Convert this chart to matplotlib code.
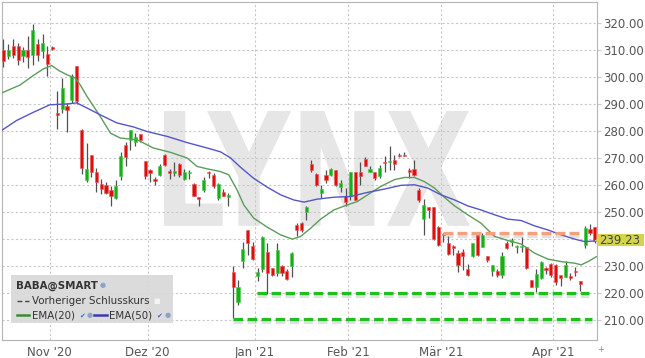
import matplotlib
matplotlib.use("Agg")
import matplotlib.pyplot as plt
import matplotlib.patheffects as pe
from matplotlib.textpath import TextPath
from matplotlib.font_manager import FontProperties
from matplotlib.patches import PathPatch, Rectangle
from matplotlib.transforms import Affine2D, blended_transform_factory

# trading day index, 0 = 2 Nov 2020
start_idx = -10
opens = [310.0, 307.5, 311.5, 311.5, 307.5, 310.0, 308.1, 312.1, 309.4, 308.5,
         310.9, 286.6, 288.0, 289.0, 291.5, 303.8, 280.1, 261.9, 271.1, 264.9,
         260.4, 260.0, 258.1, 255.1, 263.3, 274.8, 276.7, 275.7, 278.9, 268.9,
         265.6, 262.1, 263.7, 271.1, 265.1, 264.2, 267.8, 262.1, 264.3, 260.4,
         255.4, 257.9, 264.8, 263.7, 255.1, 257.5, 255.4, 227.9, 216.8, 232.0,
         243.1, 237.2, 226.4, 228.8, 235.0, 229.1, 227.5, 230.0, 228.3, 230.0,
         245.2, 246.0, 250.1, 267.7, 264.1, 256.9, 263.7, 263.7, 265.3, 259.2,
         255.9, 255.7, 264.6, 264.9, 269.5, 264.6, 264.9, 263.1, 268.6, 268.4,
         269.0, 271.1, 271.1, 265.3, 265.8, 258.1, 247.3, 251.7, 251.7, 244.3,
         241.3, 238.6, 237.4, 234.9, 235.3, 228.8, 233.6, 241.5, 237.1, 233.7,
         228.3, 228.3, 226.7, 238.6, 239.0, 236.9, 237.1, 236.9, 224.8, 222.3,
         225.4, 229.1, 230.7, 230.4, 226.7, 226.0, 226.3, 228.3, 224.6, 237.8,
         243.6, 244.3]
highs = [314.0, 311.9, 314.0, 312.5, 311.1, 314.9, 319.6, 314.0, 315.9, 311.2,
         311.5, 294.6, 299.5, 290.3, 301.1, 303.9, 280.5, 275.4, 271.1, 266.2,
         262.3, 261.1, 259.4, 261.6, 272.3, 275.7, 280.1, 279.1, 278.9, 268.9,
         265.9, 262.9, 267.8, 271.5, 266.0, 268.6, 268.1, 265.8, 265.6, 260.7,
         255.6, 262.9, 265.2, 264.3, 260.6, 258.4, 256.9, 230.0, 224.8, 239.0,
         243.3, 239.0, 229.1, 240.9, 238.4, 229.1, 238.4, 230.4, 228.8, 235.3,
         246.0, 246.4, 252.2, 269.0, 264.3, 260.0, 265.6, 266.2, 265.3, 261.6,
         258.8, 264.6, 264.6, 268.6, 270.3, 266.8, 264.9, 267.4, 270.5, 274.2,
         271.1, 271.7, 272.3, 266.2, 269.3, 258.8, 254.7, 251.7, 251.7, 244.6,
         242.1, 240.9, 237.8, 235.9, 236.2, 230.7, 238.6, 241.5, 242.1, 233.7,
         230.4, 228.8, 235.3, 239.4, 240.3, 237.8, 240.6, 236.9, 224.8, 228.8,
         232.0, 229.7, 231.0, 230.7, 226.7, 232.0, 227.5, 229.5, 224.6, 244.8,
         245.6, 244.3]
lows = [303.4, 306.6, 306.9, 304.4, 305.4, 303.2, 304.4, 305.7, 306.9, 300.1,
        310.0, 280.6, 286.6, 279.4, 290.3, 290.0, 264.1, 260.9, 262.9, 257.2,
        256.7, 256.7, 252.2, 254.7, 261.9, 266.8, 273.0, 274.4, 275.7, 262.1,
        261.2, 260.0, 263.3, 267.0, 262.3, 263.3, 262.9, 261.6, 262.1, 255.9,
        252.0, 257.5, 262.5, 258.8, 254.4, 255.7, 252.2, 210.6, 215.6, 229.1,
        234.1, 232.2, 224.6, 227.9, 219.6, 226.3, 226.3, 226.3, 224.8, 226.0,
        240.9, 242.7, 246.8, 264.9, 259.6, 255.1, 260.6, 263.3, 259.6, 257.2,
        252.0, 254.4, 254.2, 260.0, 266.8, 264.6, 261.9, 262.5, 264.6, 265.6,
        265.6, 270.3, 270.5, 262.5, 263.1, 253.8, 241.5, 247.7, 239.6, 237.4,
        239.0, 234.1, 234.1, 227.9, 228.5, 226.3, 233.2, 233.7, 236.9, 231.6,
        226.3, 225.8, 225.4, 236.2, 237.4, 234.9, 235.3, 228.8, 222.1, 220.5,
        225.1, 227.0, 226.0, 223.0, 222.6, 225.8, 224.8, 226.3, 220.9, 236.6,
        241.5, 238.6]
closes = [305.7, 310.0, 308.1, 306.3, 310.0, 307.3, 317.4, 308.1, 312.5, 304.8,
          310.4, 285.7, 295.8, 287.8, 300.4, 290.9, 266.2, 265.8, 264.6, 261.2,
          258.4, 256.9, 255.9, 259.6, 270.7, 270.3, 280.1, 277.7, 276.7, 263.3,
          264.3, 261.4, 267.0, 267.4, 264.3, 265.1, 263.7, 264.9, 264.8, 255.9,
          254.9, 261.9, 264.3, 259.4, 260.4, 255.9, 256.3, 222.1, 222.1, 236.2,
          238.4, 232.5, 227.9, 240.6, 227.5, 226.7, 235.9, 227.3, 225.1, 234.9,
          243.1, 243.3, 251.7, 265.3, 260.0, 258.4, 261.6, 265.8, 260.0, 260.7,
          253.8, 264.6, 254.4, 263.3, 267.0, 265.8, 262.5, 266.2, 268.0, 268.9,
          267.8, 270.5, 270.7, 264.6, 263.7, 254.2, 252.6, 250.5, 239.9, 237.8,
          241.8, 234.4, 236.6, 230.4, 233.7, 226.7, 238.4, 234.1, 241.5, 232.2,
          230.4, 226.7, 233.7, 236.6, 239.6, 237.4, 237.5, 229.1, 222.3, 227.0,
          231.6, 228.5, 226.7, 224.2, 225.4, 230.4, 225.4, 227.9, 223.3, 244.0,
          242.1, 239.23]

ema20_idx = [-10.7, -6.6, -3.9, -1.8, -0.1, 1.3, 3.0, 4.7, 5.7, 7.1, 9.8, 11.9,
             13.9, 17.3, 20.7, 24.2, 27.6, 29.6, 31.7, 34.4, 36.1, 37.8, 39.2,
             41.2, 44.0, 46.7, 49.1, 50.8, 52.9, 54.9, 57.6, 60.4, 62.4, 64.5,
             67.2, 70.0, 72.0, 74.1, 76.1, 78.2, 80.2, 82.3, 85.0, 87.7, 90.5,
             93.2, 95.9, 98.7, 101.4, 104.1, 106.9, 108.2, 109.6, 111.3]
ema20 = [293.7, 296.9, 300.4, 302.9, 304.1, 302.3, 300.7, 299.5, 297.0, 292.7,
         285.3, 279.1, 277.3, 276.7, 273.6, 272.0, 269.9, 266.8, 265.9, 264.9,
         263.7, 258.1, 252.5, 247.7, 244.3, 241.5, 239.9, 240.9, 244.0, 247.3,
         250.7, 252.6, 253.8, 256.3, 259.4, 261.9, 262.7, 262.7, 261.2, 258.8,
         255.4, 252.2, 248.9, 245.8, 240.9, 239.4, 238.1, 234.7, 232.5, 231.6,
         231.0, 230.4, 231.6, 233.4]
ema50_idx = [-10.7, -7.3, -3.9, -0.5, 3.0, 5.0, 7.1, 9.8, 13.2, 16.6, 19.4,
             23.5, 27.6, 31.7, 34.4, 36.5, 38.5, 41.2, 44.0, 46.7, 49.4, 51.5,
             54.2, 57.6, 61.1, 64.5, 67.9, 71.3, 74.1, 76.8, 79.5, 82.3, 85.0,
             87.7, 90.5, 93.2, 95.9, 98.7, 101.4, 104.1, 106.9, 108.9, 111.6]
ema50 = [279.7, 283.8, 286.8, 289.6, 289.9, 290.3, 288.4, 285.9, 282.9, 281.4,
         279.7, 277.9, 275.6, 273.6, 272.2, 269.9, 266.5, 262.4, 259.1, 256.3,
         254.4, 253.6, 254.7, 255.4, 255.7, 257.2, 258.4, 259.8, 260.0, 258.8,
         256.3, 254.4, 252.2, 250.7, 248.9, 247.3, 246.8, 244.8, 243.3, 241.5,
         239.9, 239.0, 239.3]

# horizontal support lines: (level, from idx, to idx)
support_levels = [219.9, 210.4]
support_from = [41.9, 37.0]
support_to = [109.9, 110.4]
prev_close = 242.1
prev_close_from = 80.0
prev_close_to = 108.0
last_price = 239.23

month_start_idx = [0, 20, 42, 61, 80, 103]
month_labels = ["Nov '20", "Dez '20", "Jan '21", "Feb '21", "Mär '21", "Apr '21"]
price_ticks = [210, 220, 230, 240, 250, 260, 270, 280, 290, 300, 310, 320]

W, H = 645, 358
fig = plt.figure(figsize=(W / 100, H / 100), dpi=100)
fig.patch.set_facecolor("white")
ax = fig.add_axes([1.7 / W, 18 / H, 595.6 / W, 337.7 / H])
ax.set_xlim(-10.35, 111.5)
ax.set_ylim(202.6, 327.5)

# watermark
tp = TextPath((0, 0), "LYNX", size=1, prop=FontProperties(family="DejaVu Sans", weight="bold"))
bb = tp.get_extents()
fx0, fx1, fy0, fy1 = 0.2725, 0.786, 0.338, 0.678
tr = (Affine2D().translate(-bb.x0, -bb.y0)
      .scale((fx1 - fx0) / bb.width, (fy1 - fy0) / bb.height)
      .translate(fx0, fy0) + ax.transAxes)
ax.add_patch(PathPatch(tp, transform=tr, facecolor="#e6e6e6", edgecolor="none", zorder=0))

# grid
for v in price_ticks:
    ax.axhline(v, color="#c8c8c8", lw=0.8, ls=(0, (2, 2)), zorder=0.5)
for m in month_start_idx:
    ax.axvline(m - 0.5, color="#c8c8c8", lw=0.8, ls=(0, (2, 2)), zorder=0.5)

# candles
idx = list(range(start_idx, start_idx + len(closes)))
ax.vlines(idx, lows, highs, color="#505050", lw=0.9, zorder=2)
up = [c >= o for o, c in zip(opens, closes)]
body_lo = [min(o, c) for o, c in zip(opens, closes)]
body_h = [max(abs(c - o), 0.4) for o, c in zip(opens, closes)]
cols = ["#15b015" if u else "#dd1010" for u in up]
edge = ["#4cc84c" if u else "#ee5a5a" for u in up]
ax.bar(idx, body_h, bottom=body_lo, width=0.64, color=cols, edgecolor=edge,
       linewidth=0.4, zorder=3)

# EMAs
ax.plot(ema20_idx, ema20, color="#5c9c5c", lw=1.0, zorder=4)
ax.plot(ema50_idx, ema50, color="#5555c8", lw=1.0, zorder=4)

# dashed levels
shadow = [pe.SimpleLineShadow(offset=(0, -2), shadow_color="#888888", alpha=0.25), pe.Normal()]
for lvl, a, b in zip(support_levels, support_from, support_to):
    ax.plot([a, b], [lvl, lvl], color="#1fbf1f", lw=2.3, ls=(0, (3, 1.4)),
            solid_capstyle="butt", dash_capstyle="butt", zorder=5, path_effects=shadow)
ax.plot([prev_close_from, prev_close_to], [prev_close, prev_close], color="#f4a07e",
        lw=2.4, ls=(0, (3, 1.2)), dash_capstyle="butt", zorder=5, path_effects=shadow)

# axes styling
for s in ax.spines.values():
    s.set_color("#b4b4b4")
    s.set_linewidth(0.8)
ax.yaxis.tick_right()
ax.set_yticks(price_ticks)
# the 240 label sits under the last-price tag
ax.set_yticklabels(["" if abs(v - last_price) < 3 else f"{v:.2f}" for v in price_ticks])
ax.tick_params(axis="y", length=3, color="#cccccc", pad=1.5, labelsize=8.5, labelcolor="#555555")
ax.set_xticks([m - 0.5 for m in month_start_idx])
ax.set_xticklabels(month_labels)
ax.tick_params(axis="x", length=0, pad=4, labelsize=8.5, labelcolor="#555555")

# last price tag
bt = blended_transform_factory(ax.transAxes, ax.transData)
ax.add_patch(Rectangle((1.0, last_price - 2.0), 47 / 595.6, 4.6, transform=bt,
                       facecolor="#d4d44c", edgecolor="none", clip_on=False, zorder=9))
ax.plot([1.0], [last_price + 0.3], marker="<", ms=5, color="#d4d44c", mec="none",
        transform=bt, clip_on=False, zorder=9)
ax.text(1.0 + 2 / 595.6, last_price + 0.3, f"{last_price:.2f}", transform=bt, ha="left",
        va="center", fontsize=8.5, color="#444444", clip_on=False, zorder=10)
fig.text(601 / W, 1 - 349 / H, "+", fontsize=6, color="#888888", ha="center", va="center")


def px(x, y):
    return x / W, 1 - y / H


# legend box
fig.patches.append(Rectangle(px(11, 323), 162 / W, 48 / H, transform=fig.transFigure,
                             facecolor="#d8d8d8", edgecolor="none", alpha=0.9, zorder=20))
fs = 7.4
txt = "#333333"
fig.text(*px(16, 285.5), "BABA@SMART", fontsize=fs, weight="bold", color=txt,
         va="center", zorder=21)
fig.text(*px(100, 285.5), "●", fontsize=5, color="#8aa4c8", va="center", zorder=21)
fig.lines.append(plt.Line2D([17 / W, 29 / W], [1 - 300.5 / H] * 2, transform=fig.transFigure,
                            color="#444444", lw=1.0, ls=(0, (3.5, 2)), zorder=21))
fig.text(*px(32, 300.5), "Vorheriger Schlusskurs", fontsize=fs, color=txt,
         va="center", zorder=21)
fig.text(*px(153, 300.5), "■", fontsize=5, color="#f4f4f4", va="center", zorder=21)
fig.lines.append(plt.Line2D([17 / W, 29 / W], [1 - 315 / H] * 2, transform=fig.transFigure,
                            color="#3a8a3a", lw=1.8, zorder=21))
fig.text(*px(32, 315.5), "EMA(20)", fontsize=fs, color=txt, va="center", zorder=21)
fig.text(*px(79, 315.5), "✔", fontsize=5, color="#3a6ad0", va="center", zorder=21)
fig.text(*px(87, 315.5), "●", fontsize=5, color="#8aa4c8", va="center", zorder=21)
fig.lines.append(plt.Line2D([94 / W, 107 / W], [1 - 315 / H] * 2, transform=fig.transFigure,
                            color="#3a3ab0", lw=1.8, zorder=21))
fig.text(*px(109, 315.5), "EMA(50)", fontsize=fs, color=txt, va="center", zorder=21)
fig.text(*px(156, 315.5), "✔", fontsize=5, color="#3a6ad0", va="center", zorder=21)
fig.text(*px(165, 315.5), "●", fontsize=5, color="#8aa4c8", va="center", zorder=21)

fig.savefig("out.png", dpi=100)
